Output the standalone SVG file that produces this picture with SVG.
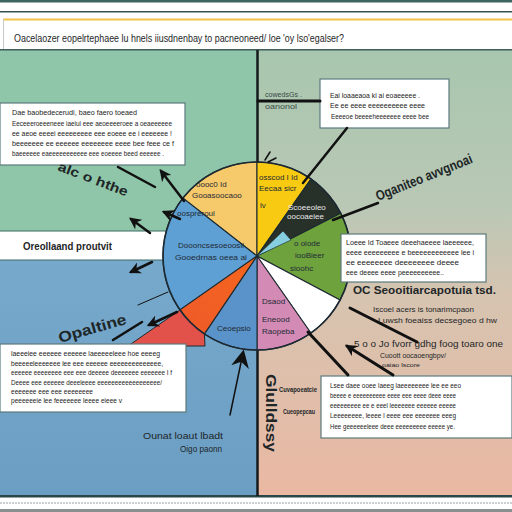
<svg xmlns="http://www.w3.org/2000/svg" width="512" height="512" viewBox="0 0 512 512">
<defs>
<linearGradient id="gR" x1="0" y1="0" x2="0" y2="1">
<stop offset="0" stop-color="#a8c6ae"/>
<stop offset="0.35" stop-color="#b9c8b5"/>
<stop offset="0.55" stop-color="#d6c4b0"/>
<stop offset="1" stop-color="#eab8a3"/>
</linearGradient>
<linearGradient id="gB" x1="0" y1="0" x2="0" y2="1">
<stop offset="0" stop-color="#76a9cb"/>
<stop offset="1" stop-color="#6b9ec3"/>
</linearGradient>
<linearGradient id="gO" x1="1" y1="0" x2="0" y2="1">
<stop offset="0" stop-color="#f5661c"/>
<stop offset="1" stop-color="#ef5a2a"/>
</linearGradient>
<marker id="ah" viewBox="0 0 10 10" refX="8" refY="5" markerWidth="12" markerHeight="12" markerUnits="userSpaceOnUse" orient="auto">
<path d="M0,0 L10,5 L0,10 L3,5 Z" fill="#111"/>
</marker>
<marker id="ahB" viewBox="0 0 10 10" refX="8" refY="5" markerWidth="18" markerHeight="18" markerUnits="userSpaceOnUse" orient="auto">
<path d="M0,0 L10,5 L0,10 L3,5 Z" fill="#111"/>
</marker>
</defs>
<style>
.bx{fill:#fff;stroke:#5d7a7c;stroke-width:1.2}
.t{font-family:"Liberation Sans",Arial,sans-serif;fill:#222;font-size:7px}
.lb{font-family:"Liberation Sans",Arial,sans-serif;fill:#1e2628;font-weight:bold}
.pt{font-family:"Liberation Sans",Arial,sans-serif;fill:#1f2a35;font-size:8px}
.c{stroke:#111;fill:none;stroke-linecap:round}
.sl{stroke:#1d2a30;stroke-width:1.1}
</style>

<g id="background">
<rect x="0" y="0" width="512" height="512" fill="#ffffff"/>
<rect x="0" y="0" width="512" height="2.5" fill="#3d6560"/>
<rect x="0" y="11" width="512" height="1.5" fill="#35524e"/>
<rect x="0" y="50" width="257" height="182" fill="#8fc6a9"/>
<rect x="0" y="260" width="257" height="236" fill="url(#gB)"/>
<rect x="257" y="50" width="255" height="446" fill="url(#gR)"/>
<rect x="0" y="231" width="257" height="29" fill="#ffffff"/>
<line x1="0" y1="231" x2="170" y2="231" stroke="#3e6a66" stroke-width="1.2"/>
<line x1="0" y1="260" x2="170" y2="260" stroke="#3e6a66" stroke-width="1.2"/>
<rect x="0" y="49" width="512" height="1.5" fill="#3e5d5c"/>
<rect x="0" y="495" width="512" height="2.5" fill="#2c4548"/>
<line x1="0" y1="503" x2="512" y2="503" stroke="#9aa0a0" stroke-width="1" stroke-dasharray="2 1"/>
<rect x="0" y="509" width="512" height="3" fill="#8a9090"/>
<line x1="257.5" y1="50" x2="257.5" y2="496" stroke="#141a1c" stroke-width="2.5"/>
</g>

<g id="header">
<line x1="3" y1="19.5" x2="512" y2="19.5" stroke="#f2c24a" stroke-width="2"/>
<line x1="3.5" y1="19" x2="3.5" y2="49" stroke="#c9c9c9" stroke-width="1"/>
<text x="14" y="42" font-family="Liberation Sans, Arial, sans-serif" font-size="10" fill="#1e2628" textLength="330" lengthAdjust="spacingAndGlyphs">Oacelaozer eopelrtephaee lu hnels iiusdnenbay to  pacneoneed/ loe 'oy lso'egalser?</text>
</g>

<g id="pie">
<path d="M257,256 L182.9,198.1 A94,94 0 0 1 257,162 Z" fill="#f6c96b" class="sl"/>
<path d="M257,256 L257,162 A94,94 0 0 1 310.9,179 Z" fill="#f8cb12" class="sl"/>
<path d="M257,256 L310.9,179 A94,94 0 0 1 340.8,213.3 Z" fill="#273029" class="sl"/>
<path d="M257,256 L340.8,213.3 A94,94 0 0 1 340,300.1 Z" fill="#6ea23d" class="sl"/>
<path d="M257,256 L340,300.1 A94,94 0 0 1 310.9,333 Z" fill="#ffffff" class="sl"/>
<path d="M257,256 L310.9,333 A94,94 0 0 1 257,350 Z" fill="#d38bb6" class="sl"/>
<path d="M257,256 L257,350 A94,94 0 0 1 204.4,333.9 Z" fill="#5a93c9" class="sl"/>
<path d="M257,256 L180,309.9 A94,94 0 0 1 182.9,198.1 Z" fill="#5ea0d3" class="sl"/>
<polygon points="180,310 128,346 205,346 204.4,333.9" fill="#e2514a" stroke="#1d2a30" stroke-width="1"/>
<path d="M257,256 L204.4,333.9 A94,94 0 0 1 180,309.9 Z" fill="url(#gO)" class="sl"/>
<polygon points="257,256 283,231 291,240" fill="#86cfe0" stroke="#1d2a30" stroke-width="0.6"/>
<circle cx="257" cy="256" r="94" fill="none" stroke="#1d2a33" stroke-width="1.6"/>
<text class="pt" x="196" y="187" font-size="7">oooc0 Id</text>
<text class="pt" x="192" y="198" font-size="7">Gooasoocaoo</text>
<text class="pt" x="177" y="216">oospreroul</text>
<text class="pt" x="178" y="248" textLength="66" lengthAdjust="spacingAndGlyphs">Doooncsesoeoosil</text>
<text class="pt" x="175" y="260" font-size="9" textLength="72" lengthAdjust="spacingAndGlyphs">Gooedrnas oeea ai</text>
<text class="pt" x="259" y="180" font-size="7">osscod I Id</text>
<text class="pt" x="259" y="191" font-size="7">Eecaa sicr</text>
<text class="pt" x="260" y="208" font-size="7">lv</text>
<text class="pt" x="288" y="210" font-size="6" style="fill:#e8e8e8">Scoeeoleo</text>
<text class="pt" x="287" y="219" font-size="5.5" style="fill:#e8e8e8">oocoaeiee</text>
<text class="pt" x="294" y="246" font-size="9">o oiode</text>
<text class="pt" x="295" y="258" font-size="9">iooBieer</text>
<text class="pt" x="290" y="271" font-size="8">sioohc</text>
<text class="pt" x="262" y="304">Dsaod</text>
<text class="pt" x="262" y="322" font-size="9">Eneood</text>
<text class="pt" x="262" y="334" font-size="8">Raopeba</text>
<text class="pt" x="217" y="331" font-size="9">Ceoepsio</text>
</g>

<g id="box-top-left">
<rect x="0" y="103" width="185" height="62" class="bx"/>
<text class="t" x="12" y="115" textLength="125" lengthAdjust="spacingAndGlyphs">Dae baobedecerudi, baeo faero toeaed</text>
<text class="t" x="12" y="126" textLength="160" lengthAdjust="spacingAndGlyphs">Eeceeeroeeeneee iaeiui eee aeoeeeeroee a oeaeeeeee</text>
<text class="t" x="12" y="136" textLength="160" lengthAdjust="spacingAndGlyphs">ee aeoe eeeei eeeeeeeee eee eoeee ee i eeeeeee !</text>
<text class="t" x="12" y="146" textLength="162" lengthAdjust="spacingAndGlyphs">beeeeeee ee eeeeee eeeeeeee eeee bee feee ce f</text>
<text class="t" x="12" y="156" textLength="152" lengthAdjust="spacingAndGlyphs">baeeeeee eaeeeeeeeeeee eee eoeeee beed eeeeee .</text>
</g>

<g id="box-top-right">
<rect x="320" y="79" width="129" height="49" class="bx"/>
<text class="t" x="330" y="98" textLength="90" lengthAdjust="spacingAndGlyphs">Eai loaaeaoa kl ai eoaeeeee .</text>
<text class="t" x="330" y="108" textLength="95" lengthAdjust="spacingAndGlyphs">Ee ee eeee eeeeeeeeee eeee</text>
<text class="t" x="331" y="119" textLength="98" lengthAdjust="spacingAndGlyphs">Eeeeoe beeeeheeeeeee eeee bee</text>
</g>

<g id="box-right-middle">
<rect x="341" y="234" width="145" height="48" class="bx"/>
<text class="t" x="346" y="245" textLength="128" lengthAdjust="spacingAndGlyphs">Loeee Id Toaeee deeehaeeee laeeeeee,</text>
<text class="t" x="346" y="255" textLength="128" lengthAdjust="spacingAndGlyphs">eeee eeeeeeeee e beeeeeeeeeeee lee i</text>
<text class="t" x="346" y="265" textLength="113" lengthAdjust="spacingAndGlyphs">ee eeeeeeee deeeeeeee deeee</text>
<text class="t" x="346" y="275" textLength="98" lengthAdjust="spacingAndGlyphs">eee deeee eeee peeeeeeeeee..</text>
</g>

<g id="box-bottom-left">
<rect x="0" y="344" width="186" height="68" class="bx"/>
<text class="t" x="11" y="356" textLength="149" lengthAdjust="spacingAndGlyphs">laeeeiee eeeeee eeeeee laeeeeeleee hoe eeeeg</text>
<text class="t" x="11" y="366" textLength="152" lengthAdjust="spacingAndGlyphs">beeeeeleeeeeee lee eee eeeeee eeeeeeeeeeeeee,</text>
<text class="t" x="11" y="375" textLength="161" lengthAdjust="spacingAndGlyphs">eeeeee eeeeeeee eee eee deeeee deeeeeee eeeeeee I f</text>
<text class="t" x="11" y="385" textLength="151" lengthAdjust="spacingAndGlyphs">Deeee eee eeeeee deeeleeee eeeeeeeeeeeeeeeeee/</text>
<text class="t" x="11" y="394" textLength="82" lengthAdjust="spacingAndGlyphs">eeeeeee eee eee eeeeeeee</text>
<text class="t" x="11" y="403" textLength="111" lengthAdjust="spacingAndGlyphs">peeeeeeie lee feeeeeee leeee eieee v</text>
</g>

<g id="box-bottom-right">
<rect x="321" y="376" width="191" height="62" class="bx"/>
<text class="t" x="330" y="388" textLength="131" lengthAdjust="spacingAndGlyphs">Lsee daee ooee laeeg laeeeeeeee lee ee eeo</text>
<text class="t" x="330" y="398" textLength="126" lengthAdjust="spacingAndGlyphs">beeee e eeeeeeeeee eeee eee eeee deee eeee</text>
<text class="t" x="330" y="408" textLength="126" lengthAdjust="spacingAndGlyphs">eeeeeeeee ee e eeel leeeeeee eeeeee eeeee</text>
<text class="t" x="330" y="418" textLength="126" lengthAdjust="spacingAndGlyphs">Leeeeeeee, leeee l eeee eee eeeeeee eeeg</text>
<text class="t" x="330" y="429" textLength="125" lengthAdjust="spacingAndGlyphs">Hee geeeeeeleee deee eeeeeeeee eeeee ye.</text>
</g>

<g id="labels">
<text class="lb" font-size="13" transform="translate(57,170) rotate(21)" textLength="74" lengthAdjust="spacingAndGlyphs">alc o hthe</text>
<text class="lb" font-size="10" x="23" y="250" textLength="89" lengthAdjust="spacingAndGlyphs">Oreollaand proutvit</text>
<text class="lb" font-size="15" transform="translate(60,343) rotate(-16)" textLength="70" lengthAdjust="spacingAndGlyphs">Opaltine</text>
<text class="lb" font-size="14" transform="translate(378,201) rotate(-22)" textLength="103" lengthAdjust="spacingAndGlyphs">Oganiteo avvgnoai</text>
<text class="lb" font-size="7" x="265" y="97" style="fill:#3a4a48;font-weight:normal" textLength="37" lengthAdjust="spacingAndGlyphs">cowedsGs .</text>
<text class="lb" font-size="7" x="265" y="109" style="fill:#3a4a48;font-weight:normal" textLength="32" lengthAdjust="spacingAndGlyphs">oanonol</text>
<text class="lb" font-size="10" x="353" y="294" textLength="143" lengthAdjust="spacingAndGlyphs">OC Seooitiarcapotuia tsd.</text>
<text class="lb" font-size="8" x="373" y="312" style="font-weight:normal" textLength="101" lengthAdjust="spacingAndGlyphs">Iscoel acers is tonarimcpaon</text>
<text class="lb" font-size="8" x="378" y="323" style="font-weight:normal" textLength="119" lengthAdjust="spacingAndGlyphs">Luwsh foeaiss decsegoeo d hw</text>
<text class="lb" font-size="9" x="354" y="347" style="font-weight:normal" textLength="149" lengthAdjust="spacingAndGlyphs">5 o o Jo fvorr gdhg foog toaro one</text>
<text class="lb" font-size="7" x="380" y="358" style="font-weight:normal" textLength="66" lengthAdjust="spacingAndGlyphs">Cuoott oocaoengbpv/</text>
<text class="lb" font-size="6" x="382" y="367" style="font-weight:normal" textLength="38" lengthAdjust="spacingAndGlyphs">oaiao lscore</text>
<text class="lb" font-size="9" x="143" y="439" style="font-weight:normal" textLength="80" lengthAdjust="spacingAndGlyphs">Ounat loaut lbadt</text>
<text class="lb" font-size="9" x="180" y="452" style="font-weight:normal" textLength="42" lengthAdjust="spacingAndGlyphs">Oigo paonn</text>
<text class="lb" font-size="14" transform="translate(266,374) rotate(90)" textLength="78" lengthAdjust="spacingAndGlyphs">Glulldssy</text>
<text class="lb" font-size="7" x="279" y="392" textLength="38" lengthAdjust="spacingAndGlyphs">Cuvapoeatcie</text>
<text class="lb" font-size="8" x="283" y="414" textLength="32" lengthAdjust="spacingAndGlyphs">Cueopepcau</text>
</g>

<g id="connectors">
<line class="c" x1="347" y1="128" x2="303" y2="183" stroke-width="2.5"/>
<line class="c" x1="258" y1="101" x2="320" y2="101" stroke-width="3"/>
<line class="c" x1="378" y1="203" x2="333" y2="220" stroke-width="2.5"/>
<line class="c" x1="118" y1="167" x2="155" y2="187" stroke-width="2.5"/>
<line class="c" x1="184" y1="201" x2="161" y2="171" stroke-width="2.5" marker-end="url(#ah)"/>
<line class="c" x1="180" y1="219" x2="164" y2="212" stroke-width="2.5" marker-end="url(#ah)"/>
<line class="c" x1="150" y1="233" x2="131" y2="219" stroke-width="2.5" marker-end="url(#ah)"/>
<line class="c" x1="152" y1="262" x2="131" y2="272" stroke-width="2.5" marker-end="url(#ah)"/>
<line class="c" x1="177" y1="312" x2="149" y2="325" stroke-width="2.5" marker-end="url(#ah)"/>
<line class="c" x1="113" y1="340" x2="142" y2="322" stroke-width="2.5"/>
<line class="c" x1="138" y1="305" x2="168" y2="292" stroke-width="1"/>
<line class="c" x1="230" y1="415" x2="243" y2="353" stroke-width="1.5" marker-end="url(#ahB)"/>
<line class="c" x1="350" y1="308" x2="417" y2="342" stroke-width="3"/>
<line class="c" x1="308" y1="332" x2="348" y2="375" stroke-width="3"/>
<line class="c" x1="393" y1="375" x2="347" y2="346" stroke-width="3" marker-end="url(#ah)"/>
<path class="c" d="M265,160 L270,152 M268,162 L276,158" stroke-width="1.5"/>
</g>
</svg>
